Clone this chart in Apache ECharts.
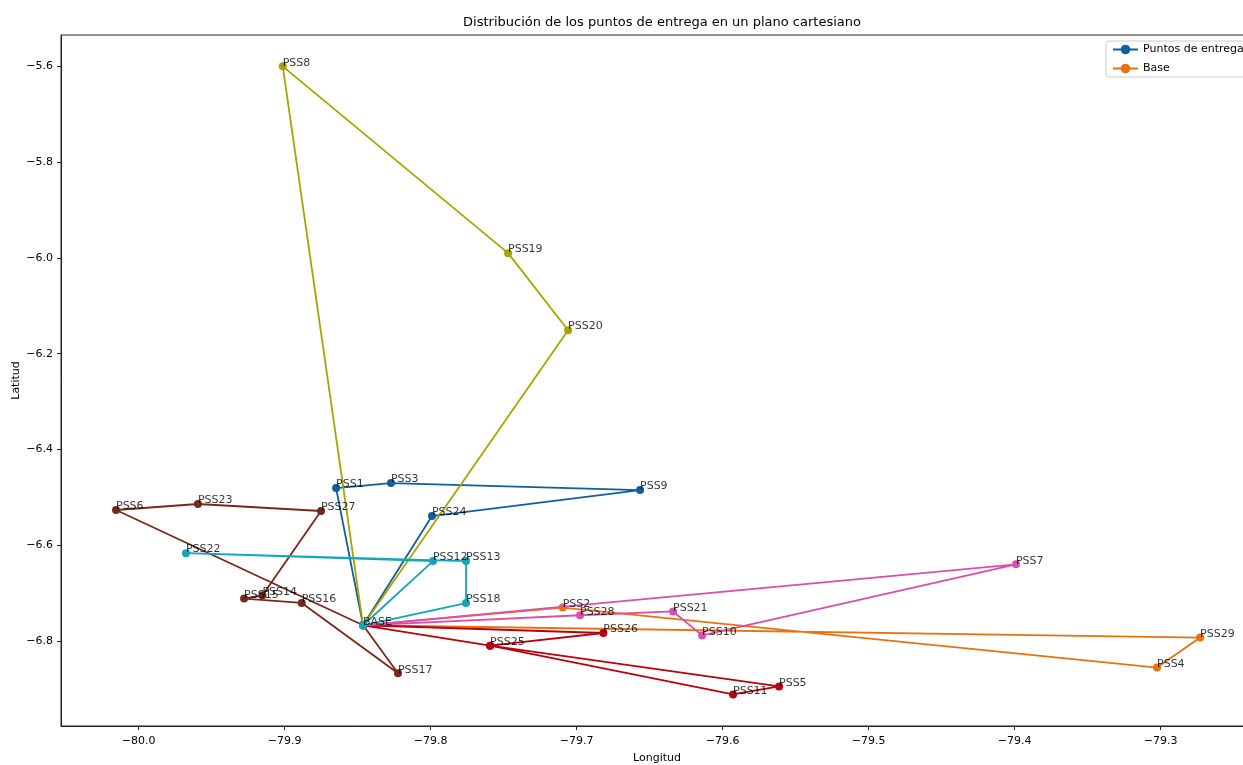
<!DOCTYPE html>
<html>
<head>
<meta charset="utf-8">
<script src="https://cdn.jsdelivr.net/npm/echarts@6/dist/echarts.min.js"></script>
<style>
  html, body { margin: 0; padding: 0; background: #fff; }
  #chart { width: 1243px; height: 765px; }
</style>
</head>
<body>
<div id="chart"></div>
<script>
// Delivery points (longitude, latitude)
const nombres = ['BASE','PSS1','PSS2','PSS3','PSS4','PSS5','PSS6','PSS7','PSS8','PSS9','PSS10',
  'PSS11','PSS12','PSS13','PSS14','PSS15','PSS16','PSS17','PSS18','PSS19','PSS20',
  'PSS21','PSS22','PSS23','PSS24','PSS25','PSS26','PSS27','PSS28','PSS29'];
const longitudes = [-79.8462,-79.8647,-79.7095,-79.8271,-79.3024,-79.5613,-80.0154,-79.3990,-79.9012,-79.6565,-79.6140,
  -79.5928,-79.7983,-79.7757,-79.9151,-79.9277,-79.8882,-79.8223,-79.7757,-79.7469,-79.7058,
  -79.6339,-79.9675,-79.9593,-79.7990,-79.7592,-79.6816,-79.8750,-79.6976,-79.2729];
const latitudes = [-6.7670,-6.4806,-6.7300,-6.4701,-6.8553,-6.8946,-6.5263,-6.6398,-5.6000,-6.4847,-6.7882,
  -6.9113,-6.6329,-6.6329,-6.7043,-6.7112,-6.7204,-6.8673,-6.7206,-5.9901,-6.1509,
  -6.7381,-6.6165,-6.5138,-6.5390,-6.8097,-6.7831,-6.5284,-6.7461,-6.7926];

// Routes, each leaving from and returning to BASE
const rutaAzul    = ['BASE','PSS1','PSS3','PSS9','PSS24','BASE'];
const rutaNaranja = ['BASE','PSS2','PSS4','PSS29','BASE'];
const rutaRoja    = ['BASE','PSS26','PSS25','PSS5','PSS11','PSS25','BASE'];
const rutaMarron  = ['BASE','PSS6','PSS23','PSS27','PSS14','PSS15','PSS16','PSS17','BASE'];
const rutaRosa    = ['BASE','PSS7','PSS10','PSS21','PSS28','BASE'];
const rutaOliva   = ['BASE','PSS8','PSS19','PSS20','BASE'];
const rutaCian    = ['BASE','PSS18','PSS13','PSS22','PSS12','BASE'];

const ticksX = [-80.0,-79.9,-79.8,-79.7,-79.6,-79.5,-79.4,-79.3];
const ticksY = [-5.6,-5.8,-6.0,-6.2,-6.4,-6.6,-6.8];

const FONT = "'DejaVu Sans', sans-serif";

function coords(ruta) {
  return ruta.map(n => {
    const i = nombres.indexOf(n);
    return [longitudes[i], latitudes[i]];
  });
}
function fmt(v) {
  return v.toFixed(1).replace('-', '\u2212');
}

const rutas = [
  { name: 'Puntos de entrega', ruta: rutaAzul, color: '#115e9d' },
  { name: 'Base', ruta: rutaNaranja, color: '#e8720f' },
  { name: 'Ruta 3', ruta: rutaRoja, color: '#b80010' },
  { name: 'Ruta 4', ruta: rutaMarron, color: '#74291b' },
  { name: 'Ruta 5', ruta: rutaRosa, color: '#d84fae' },
  { name: 'Ruta 6', ruta: rutaOliva, color: '#a6a500' },
  { name: 'Ruta 7', ruta: rutaCian, color: '#14a5b9' }
];

const series = rutas.map((r, k) => ({
  type: 'line',
  name: r.name,
  data: coords(r.ruta),
  symbol: 'circle',
  symbolSize: 8,
  showAllSymbol: true,
  lineStyle: { color: r.color, width: 1.8 },
  itemStyle: { color: r.color },
  emphasis: { disabled: true },
  z: 2 + k
}));

series.push({
  type: 'scatter',
  name: 'etiquetas',
  data: nombres.map((n, i) => [longitudes[i], latitudes[i], n]),
  symbolSize: 0.1,
  itemStyle: { color: 'transparent' },
  label: {
    show: true,
    position: [0, 0],
    align: 'left',
    verticalAlign: 'bottom',
    offset: [0, 2],
    formatter: p => p.data[2],
    fontFamily: FONT,
    fontSize: 11,
    lineHeight: 11,
    color: '#000'
  },
  emphasis: { disabled: true },
  silent: true,
  z: 20
});

const chart = echarts.init(document.getElementById('chart'), null, { renderer: 'canvas' });
chart.setOption({
  animation: false,
  backgroundColor: '#fff',
  title: {
    text: 'Distribución de los puntos de entrega en un plano cartesiano',
    left: 657,
    textAlign: 'center',
    top: 11,
    textStyle: { fontFamily: FONT, fontSize: 13, fontWeight: 'normal', color: '#000' }
  },
  legend: {
    data: ['Puntos de entrega', 'Base'],
    orient: 'vertical',
    left: 1106,
    top: 41,
    itemWidth: 25,
    itemHeight: 12,
    itemGap: 8,
    padding: [3, 6],
    backgroundColor: '#fff',
    borderColor: '#cccccc',
    borderWidth: 1,
    borderRadius: 3,
    textStyle: { fontFamily: FONT, fontSize: 11, color: '#000' }
  },
  grid: {
    left: 61, top: 35, width: 1192, height: 691,
    containLabel: false,
    outerBoundsMode: 'none',
    show: true, borderColor: '#222', borderWidth: 1, backgroundColor: 'transparent'
  },
  xAxis: {
    type: 'value',
    min: -80.0531,
    max: -79.2367,
    name: 'Longitud',
    nameLocation: 'middle',
    nameGap: 27,
    nameMoveOverlap: false,
    nameTextStyle: { fontFamily: FONT, fontSize: 11, color: '#000' },
    axisLine: { show: true, lineStyle: { color: '#222', width: 1 } },
    axisTick: { show: true, customValues: ticksX, length: 4, lineStyle: { color: '#222' } },
    axisLabel: {
      customValues: ticksX, formatter: v => fmt(v), margin: 10,
      fontFamily: FONT, fontSize: 11, color: '#000'
    },
    splitLine: { show: false }
  },
  yAxis: {
    type: 'value',
    min: -6.9773,
    max: -5.5346,
    name: 'Latitud',
    nameLocation: 'middle',
    nameGap: 39,
    nameMoveOverlap: false,
    nameRotate: 90,
    nameTextStyle: { fontFamily: FONT, fontSize: 11, color: '#000' },
    axisLine: { show: true, lineStyle: { color: '#222', width: 1 } },
    axisTick: { show: true, customValues: ticksY, length: 4, lineStyle: { color: '#222' } },
    axisLabel: {
      customValues: ticksY, formatter: v => fmt(v), margin: 8,
      fontFamily: FONT, fontSize: 11, color: '#000'
    },
    splitLine: { show: false }
  },
  series: series
});
</script>
</body>
</html>
